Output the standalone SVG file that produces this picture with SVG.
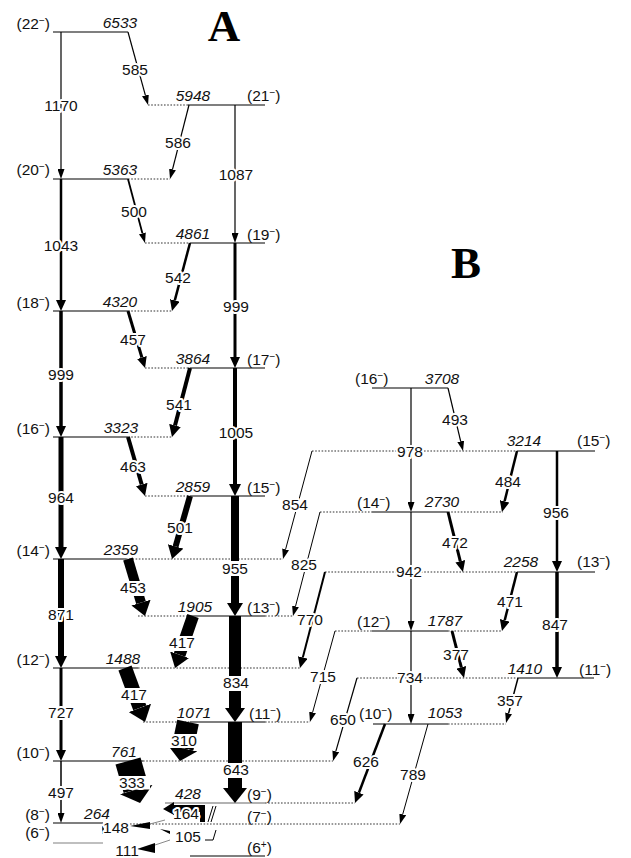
<svg xmlns="http://www.w3.org/2000/svg" width="631" height="858" viewBox="0 0 631 858">
<style>
text{font-family:"Liberation Sans",Arial,sans-serif;font-size:15.5px;fill:#111}
.e{font-style:italic;text-anchor:middle}
.t{text-anchor:middle;stroke:#fff;stroke-width:4px;paint-order:stroke;stroke-linejoin:round}
.sl{text-anchor:end}
.sr{text-anchor:start}
.sup{font-size:10px}
.lv{stroke:#555;stroke-width:1.3;fill:none}
.dt{stroke:#777;stroke-width:1.3;stroke-dasharray:1.6 1.6;fill:none}
.ar{stroke:#000;fill:none}
.bg{fill:#fff}
.big{font-family:"Liberation Serif","Times New Roman",serif;font-weight:bold;font-size:45px;text-anchor:middle;fill:#000}
</style>
<defs>
<marker id="m1" markerUnits="userSpaceOnUse" viewBox="0 0 10 7" markerWidth="10" markerHeight="7" refX="0" refY="3.5" orient="auto"><path d="M0,0L10,3.5L0,7z"/></marker>
<marker id="m2" markerUnits="userSpaceOnUse" viewBox="0 0 11 10" markerWidth="11" markerHeight="10" refX="0" refY="5" orient="auto"><path d="M0,0L11,5L0,10z"/></marker>
<marker id="m3" markerUnits="userSpaceOnUse" viewBox="0 0 12 12" markerWidth="12" markerHeight="12" refX="0" refY="6" orient="auto"><path d="M0,0L12,6L0,12z"/></marker>
<marker id="m4" markerUnits="userSpaceOnUse" viewBox="0 0 13 16" markerWidth="13" markerHeight="16" refX="0" refY="8" orient="auto"><path d="M0,0L13,8L0,16z"/></marker>
<marker id="m5" markerUnits="userSpaceOnUse" viewBox="0 0 14 20" markerWidth="14" markerHeight="20" refX="0" refY="10" orient="auto"><path d="M0,0L14,10L0,20z"/></marker>
<marker id="m6" markerUnits="userSpaceOnUse" viewBox="0 0 15 24" markerWidth="15" markerHeight="24" refX="0" refY="12" orient="auto"><path d="M0,0L15,12L0,24z"/></marker>
<marker id="m7" markerUnits="userSpaceOnUse" viewBox="0 0 13 30" markerWidth="13" markerHeight="30" refX="0" refY="15" orient="auto"><path d="M0,0L13,15L0,30z"/></marker>
<marker id="m8" markerUnits="userSpaceOnUse" viewBox="0 0 14 34" markerWidth="14" markerHeight="34" refX="0" refY="17" orient="auto"><path d="M0,0L14,17L0,34z"/></marker>
</defs>
<rect width="631" height="858" fill="#fff"/>
<text class="big" x="224" y="41">A</text>
<text class="big" x="466" y="278">B</text>

<g id="levels">
<g id="L6533"><line class="lv" x1="53" y1="32" x2="128" y2="32"/><text class="sl" x="50" y="29">(22<tspan class="sup" dy="-5">−</tspan><tspan dy="5">)</tspan></text><text class="e" x="120" y="28">6533</text></g>
<g id="L5948"><line class="dt" x1="148" y1="105" x2="188" y2="105"/><line class="lv" x1="188" y1="105" x2="265" y2="105"/><text class="e" x="193" y="101">5948</text><text class="sr" x="247" y="101">(21<tspan class="sup" dy="-5">−</tspan><tspan dy="5">)</tspan></text></g>
<g id="L5363"><line class="lv" x1="53" y1="179" x2="128" y2="179"/><line class="dt" x1="128" y1="179" x2="170" y2="179"/><text class="sl" x="50" y="175">(20<tspan class="sup" dy="-5">−</tspan><tspan dy="5">)</tspan></text><text class="e" x="120" y="175">5363</text></g>
<g id="L4861"><line class="dt" x1="145" y1="243" x2="190" y2="243"/><line class="lv" x1="190" y1="243" x2="265" y2="243"/><text class="e" x="193" y="239">4861</text><text class="sr" x="247" y="240">(19<tspan class="sup" dy="-5">−</tspan><tspan dy="5">)</tspan></text></g>
<g id="L4320"><line class="lv" x1="53" y1="311" x2="128" y2="311"/><line class="dt" x1="128" y1="311" x2="172" y2="311"/><text class="sl" x="50" y="308">(18<tspan class="sup" dy="-5">−</tspan><tspan dy="5">)</tspan></text><text class="e" x="120" y="307">4320</text></g>
<g id="L3864"><line class="dt" x1="145" y1="368" x2="190" y2="368"/><line class="lv" x1="190" y1="368" x2="265" y2="368"/><text class="e" x="193" y="364">3864</text><text class="sr" x="247" y="365">(17<tspan class="sup" dy="-5">−</tspan><tspan dy="5">)</tspan></text></g>
<g id="L3323"><line class="lv" x1="53" y1="437" x2="128" y2="437"/><line class="dt" x1="128" y1="437" x2="172" y2="437"/><text class="sl" x="50" y="434">(16<tspan class="sup" dy="-5">−</tspan><tspan dy="5">)</tspan></text><text class="e" x="121" y="433">3323</text></g>
<g id="L2859"><line class="dt" x1="145" y1="496" x2="190" y2="496"/><line class="lv" x1="190" y1="496" x2="265" y2="496"/><text class="e" x="193" y="492">2859</text><text class="sr" x="247" y="493">(15<tspan class="sup" dy="-5">−</tspan><tspan dy="5">)</tspan></text></g>
<g id="L2359"><line class="lv" x1="53" y1="559" x2="126" y2="559"/><line class="dt" x1="126" y1="559" x2="283" y2="559"/><text class="sl" x="50" y="556">(14<tspan class="sup" dy="-5">−</tspan><tspan dy="5">)</tspan></text><text class="e" x="121" y="555">2359</text></g>
<g id="L1905"><line class="dt" x1="138" y1="616" x2="190" y2="616"/><line class="lv" x1="190" y1="616" x2="265" y2="616"/><line class="dt" x1="265" y1="616" x2="293" y2="616"/><text class="e" x="195" y="612">1905</text><text class="sr" x="247" y="613">(13<tspan class="sup" dy="-5">−</tspan><tspan dy="5">)</tspan></text></g>
<g id="L1488"><line class="lv" x1="53" y1="668" x2="138" y2="668"/><line class="dt" x1="138" y1="668" x2="300" y2="668"/><text class="sl" x="50" y="665">(12<tspan class="sup" dy="-5">−</tspan><tspan dy="5">)</tspan></text><text class="e" x="123" y="664">1488</text></g>
<g id="L1071"><line class="dt" x1="143" y1="722" x2="190" y2="722"/><line class="lv" x1="190" y1="722" x2="265" y2="722"/><line class="dt" x1="265" y1="722" x2="310" y2="722"/><text class="e" x="194" y="718">1071</text><text class="sr" x="249" y="719">(11<tspan class="sup" dy="-5">−</tspan><tspan dy="5">)</tspan></text></g>
<g id="L761"><line class="lv" x1="53" y1="761" x2="143" y2="761"/><line class="dt" x1="143" y1="761" x2="333" y2="761"/><text class="sl" x="50" y="758">(10<tspan class="sup" dy="-5">−</tspan><tspan dy="5">)</tspan></text><text class="e" x="124" y="757">761</text></g>
<g id="L428"><line class="lv" x1="165" y1="803" x2="265" y2="803" style="stroke:#999"/><line class="dt" x1="265" y1="803" x2="355" y2="803"/><text class="e" x="188" y="799">428</text><text class="sr" x="247" y="800">(9<tspan class="sup" dy="-5">−</tspan><tspan dy="5">)</tspan></text></g>
<g id="L264"><line class="lv" x1="53" y1="823" x2="103" y2="823"/><text class="sl" x="50" y="820">(8<tspan class="sup" dy="-5">−</tspan><tspan dy="5">)</tspan></text><text class="e" x="97" y="819">264</text></g>
<g id="L7"><line class="dt" x1="130" y1="824" x2="400" y2="824"/><text class="sr" x="247" y="822">(7<tspan class="sup" dy="-5">−</tspan><tspan dy="5">)</tspan></text></g>
<g id="L6m"><line class="lv" x1="53" y1="843" x2="103" y2="843" style="stroke:#aaa"/><text class="sl" x="50" y="838">(6<tspan class="sup" dy="-5">−</tspan><tspan dy="5">)</tspan></text></g>
<g id="L6p"><line class="lv" x1="190" y1="856" x2="265" y2="856"/><text class="sr" x="247" y="853">(6<tspan class="sup" dy="-5">+</tspan><tspan dy="5">)</tspan></text></g>

<g id="L3708"><line class="lv" x1="372" y1="388" x2="448" y2="388"/><text class="sr" x="355" y="384">(16<tspan class="sup" dy="-5">−</tspan><tspan dy="5">)</tspan></text><text class="e" x="442" y="384">3708</text></g>
<g id="L3214"><line class="dt" x1="312" y1="451" x2="517" y2="451"/><line class="lv" x1="517" y1="451" x2="595" y2="451"/><text class="e" x="524" y="446">3214</text><text class="sr" x="577" y="446">(15<tspan class="sup" dy="-5">−</tspan><tspan dy="5">)</tspan></text></g>
<g id="L2730"><line class="dt" x1="320" y1="512" x2="372" y2="512"/><line class="lv" x1="372" y1="512" x2="448" y2="512"/><line class="dt" x1="448" y1="512" x2="503" y2="512"/><text class="sr" x="357" y="508">(14<tspan class="sup" dy="-5">−</tspan><tspan dy="5">)</tspan></text><text class="e" x="442" y="507">2730</text></g>
<g id="L2258"><line class="dt" x1="325" y1="572" x2="517" y2="572"/><line class="lv" x1="517" y1="572" x2="595" y2="572"/><text class="e" x="521" y="567">2258</text><text class="sr" x="577" y="567">(13<tspan class="sup" dy="-5">−</tspan><tspan dy="5">)</tspan></text></g>
<g id="L1787"><line class="dt" x1="335" y1="631" x2="372" y2="631"/><line class="lv" x1="372" y1="631" x2="448" y2="631"/><line class="dt" x1="448" y1="631" x2="502" y2="631"/><text class="sr" x="357" y="627">(12<tspan class="sup" dy="-5">−</tspan><tspan dy="5">)</tspan></text><text class="e" x="445" y="626">1787</text></g>
<g id="L1410"><line class="dt" x1="357" y1="678" x2="518" y2="678"/><line class="lv" x1="518" y1="678" x2="594" y2="678"/><text class="e" x="525" y="674">1410</text><text class="sr" x="579" y="675">(11<tspan class="sup" dy="-5">−</tspan><tspan dy="5">)</tspan></text></g>
<g id="L1053"><line class="lv" x1="373" y1="724" x2="448" y2="724"/><line class="dt" x1="448" y1="724" x2="506" y2="724"/><text class="sr" x="359" y="719">(10<tspan class="sup" dy="-5">−</tspan><tspan dy="5">)</tspan></text><text class="e" x="445" y="718">1053</text></g>
</g>

<g id="connectors">
<line class="ar" x1="61" y1="32" x2="61" y2="169" stroke-width="1.2" marker-end="url(#m1)"/>
<line class="ar" x1="61" y1="179" x2="61" y2="300" stroke-width="2.5" marker-end="url(#m2)"/>
<line class="ar" x1="61" y1="311" x2="61" y2="426" stroke-width="3.5" marker-end="url(#m2)"/>
<line class="ar" x1="61" y1="437" x2="61" y2="547" stroke-width="5" marker-end="url(#m3)"/>
<line class="ar" x1="61" y1="559" x2="61" y2="656" stroke-width="6" marker-end="url(#m3)"/>
<line class="ar" x1="61" y1="668" x2="61" y2="750" stroke-width="3" marker-end="url(#m2)"/>
<line class="ar" x1="61" y1="761" x2="61" y2="813" stroke-width="1.5" marker-end="url(#m1)"/>

<line class="ar" x1="235" y1="105" x2="235" y2="233" stroke-width="1.2" marker-end="url(#m1)"/>
<line class="ar" x1="235" y1="243" x2="235" y2="357" stroke-width="3" marker-end="url(#m2)"/>
<line class="ar" x1="235" y1="368" x2="235" y2="484" stroke-width="4" marker-end="url(#m3)"/>
<line class="ar" x1="235" y1="496" x2="235" y2="603" stroke-width="8" marker-end="url(#m4)"/>
<line class="ar" x1="235" y1="616" x2="235" y2="708" stroke-width="12" marker-end="url(#m5)"/>
<line class="ar" x1="235" y1="722" x2="235" y2="788" stroke-width="14" marker-end="url(#m6)"/>

<line class="ar" x1="128" y1="32" x2="145.4" y2="95.4" stroke-width="1.2" marker-end="url(#m1)"/>
<line class="ar" x1="189" y1="105" x2="172.5" y2="169.3" stroke-width="1.2" marker-end="url(#m1)"/>
<line class="ar" x1="128" y1="179" x2="142.4" y2="233.3" stroke-width="1.8" marker-end="url(#m1)"/>
<line class="ar" x1="190" y1="243" x2="174.8" y2="300.4" stroke-width="2.5" marker-end="url(#m2)"/>
<line class="ar" x1="128" y1="311" x2="141.9" y2="357.5" stroke-width="3" marker-end="url(#m2)"/>
<line class="ar" x1="190" y1="368" x2="175" y2="425.4" stroke-width="4" marker-end="url(#m3)"/>
<line class="ar" x1="128" y1="437" x2="141.7" y2="484.5" stroke-width="4" marker-end="url(#m3)"/>
<line class="ar" x1="190" y1="496" x2="175.6" y2="546.5" stroke-width="6" marker-end="url(#m4)"/>
<line class="ar" x1="128" y1="559" x2="141" y2="602.6" stroke-width="10" marker-end="url(#m5)"/>
<line class="ar" x1="193" y1="616" x2="179.6" y2="654.8" stroke-width="12" marker-end="url(#m5)"/>
<line class="ar" x1="125" y1="668" x2="139.8" y2="707.9" stroke-width="14" marker-end="url(#m6)"/>
<line class="ar" x1="188" y1="722" x2="182.6" y2="748.3" stroke-width="22" marker-end="url(#m7)"/>
<line class="ar" x1="128" y1="761" x2="136.2" y2="789.5" stroke-width="26" marker-end="url(#m8)"/>

<line class="ar" x1="411" y1="388" x2="411" y2="502" stroke-width="1.2" marker-end="url(#m1)"/>
<line class="ar" x1="411" y1="512" x2="411" y2="621" stroke-width="1.2" marker-end="url(#m1)"/>
<line class="ar" x1="411" y1="631" x2="411" y2="714" stroke-width="1.2" marker-end="url(#m1)"/>
<line class="ar" x1="557" y1="451" x2="557" y2="561" stroke-width="2.5" marker-end="url(#m2)"/>
<line class="ar" x1="557" y1="572" x2="557" y2="667" stroke-width="3.5" marker-end="url(#m2)"/>

<line class="ar" x1="448" y1="388" x2="460.7" y2="441.3" stroke-width="1.2" marker-end="url(#m1)"/>
<line class="ar" x1="517" y1="451" x2="504.6" y2="501.3" stroke-width="2.5" marker-end="url(#m2)"/>
<line class="ar" x1="448" y1="512" x2="460.3" y2="561.3" stroke-width="3" marker-end="url(#m2)"/>
<line class="ar" x1="517" y1="572" x2="504.7" y2="620.3" stroke-width="2.5" marker-end="url(#m2)"/>
<line class="ar" x1="452" y1="631" x2="461.3" y2="667.3" stroke-width="3" marker-end="url(#m2)"/>
<line class="ar" x1="518" y1="678" x2="508.6" y2="713.3" stroke-width="1.5" marker-end="url(#m1)"/>
<line class="ar" x1="312" y1="451" x2="285.6" y2="549.3" stroke-width="1" marker-end="url(#m1)"/>
<line class="ar" x1="320" y1="512" x2="295.5" y2="606.3" stroke-width="1" marker-end="url(#m1)"/>
<line class="ar" x1="325" y1="572" x2="302.8" y2="657.4" stroke-width="2" marker-end="url(#m2)"/>
<line class="ar" x1="335" y1="631" x2="312.6" y2="712.4" stroke-width="1" marker-end="url(#m1)"/>
<line class="ar" x1="357" y1="678" x2="335.8" y2="751.4" stroke-width="1.2" marker-end="url(#m1)"/>
<line class="ar" x1="385" y1="724" x2="358.9" y2="792.7" stroke-width="2.5" marker-end="url(#m2)"/>
<line class="ar" x1="428" y1="724" x2="402.7" y2="814.4" stroke-width="1" marker-end="url(#m1)"/>

<path d="M205,805 L174,805 L174,802 L163,809 L174,815 L174,812 L200,812 L200,822 L205,822 Z" fill="#000"/>
<path d="M208,822 L213,806 M211,822 L216,806" stroke="#000" stroke-width="1" fill="none"/>
<path d="M103,826 L103,834" stroke="#000" stroke-width="1.5"/>
<path d="M150,822 L130,826 L150,829 Z" fill="#000"/>
<path d="M150,824 L165,820" stroke="#888" stroke-width="1"/>
<path d="M160,829 L170,831 L170,834 Z" fill="#000"/>
<path d="M205,840 L213,840 L216,830" stroke="#000" stroke-width="1" fill="none"/>
<path d="M155,843 L137,849 L155,853 Z" fill="#000"/>
<path d="M155,845 L170,840" stroke="#888" stroke-width="1"/>
</g>

<g id="labels">
<rect class="bg" x="220" y="561" width="30" height="15"/>
<rect class="bg" x="118" y="581" width="31" height="15"/>
<rect class="bg" x="166" y="636" width="31" height="15"/>
<rect class="bg" x="220" y="676" width="32" height="15"/>
<rect class="bg" x="118" y="688" width="32" height="15"/>
<rect class="bg" x="168" y="734" width="31" height="14"/>
<rect class="bg" x="219" y="763" width="34" height="15"/>
<rect class="bg" x="116" y="776" width="34" height="13.5"/>
<text class="t" x="61" y="111">1170</text>
<text class="t" x="61" y="251">1043</text>
<text class="t" x="61" y="380">999</text>
<text class="t" x="61" y="503">964</text>
<text class="t" x="61" y="620">871</text>
<text class="t" x="61" y="718">727</text>
<text class="t" x="61" y="798">497</text>
<text class="t" x="135" y="75">585</text>
<text class="t" x="178" y="148">586</text>
<text class="t" x="236" y="180">1087</text>
<text class="t" x="134" y="217">500</text>
<text class="t" x="178" y="283">542</text>
<text class="t" x="236" y="312">999</text>
<text class="t" x="133" y="345">457</text>
<text class="t" x="179" y="410">541</text>
<text class="t" x="236" y="438">1005</text>
<text class="t" x="133" y="472">463</text>
<text class="t" x="180" y="533">501</text>
<text class="t" x="235" y="574">955</text>
<text class="t" x="133" y="593">453</text>
<text class="t" x="182" y="648">417</text>
<text class="t" x="236" y="688">834</text>
<text class="t" x="134" y="700">417</text>
<text class="t" x="184" y="746">310</text>
<text class="t" x="236" y="775">643</text>
<text class="t" x="132" y="788">333</text>
<text class="t" x="186" y="819">164</text>
<text class="t" x="116" y="833">148</text>
<text class="t" x="188" y="842">105</text>
<text class="t" x="127" y="856">111</text>
<text class="t" x="455" y="425">493</text>
<text class="t" x="410" y="457">978</text>
<text class="t" x="508" y="487">484</text>
<text class="t" x="556" y="518">956</text>
<text class="t" x="455" y="548">472</text>
<text class="t" x="409" y="577">942</text>
<text class="t" x="295" y="510">854</text>
<text class="t" x="304" y="570">825</text>
<text class="t" x="310" y="625">770</text>
<text class="t" x="510" y="607">471</text>
<text class="t" x="555" y="630">847</text>
<text class="t" x="456" y="660">377</text>
<text class="t" x="323" y="682">715</text>
<text class="t" x="410" y="683">734</text>
<text class="t" x="510" y="706">357</text>
<text class="t" x="343" y="725">650</text>
<text class="t" x="366" y="767">626</text>
<text class="t" x="413" y="780">789</text>
</g>
</svg>
